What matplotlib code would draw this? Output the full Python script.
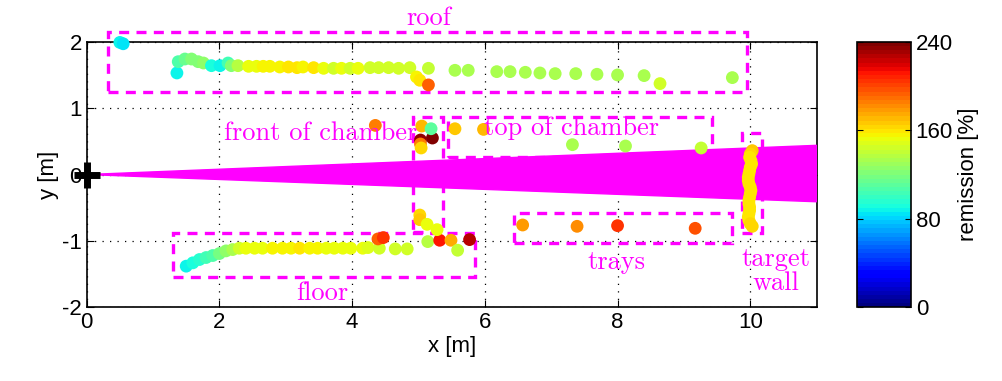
import numpy as np
import matplotlib
matplotlib.use('Agg')
import matplotlib.pyplot as plt
from matplotlib.patches import Polygon, Rectangle

plt.rcParams['font.family'] = ['Liberation Sans', 'DejaVu Sans']
plt.rcParams['axes.unicode_minus'] = False

# scan points per surface: x [m], y [m], remission [%]
roof_x = [0.50, 0.55, 1.36, 1.38, 1.48, 1.58, 1.68, 1.76, 1.88, 2.01, 2.13, 2.18, 2.28,
          2.44, 2.56, 2.66, 2.76, 2.91, 3.04, 3.17, 3.26, 3.42, 3.57, 3.72, 3.84, 3.97,
          4.09, 4.27, 4.40, 4.55, 4.70, 4.87, 5.15, 4.97, 5.02, 5.15, 5.55, 5.75, 6.18,
          6.38, 6.61, 6.83, 7.06, 7.37, 7.69, 8.00, 8.40, 8.64, 9.73]
roof_y = [1.99, 1.97, 1.53, 1.70, 1.74, 1.74, 1.70, 1.68, 1.64, 1.64, 1.68, 1.64, 1.64,
          1.63, 1.63, 1.63, 1.63, 1.62, 1.62, 1.61, 1.62, 1.61, 1.60, 1.60, 1.60, 1.60,
          1.60, 1.61, 1.61, 1.61, 1.60, 1.61, 1.60, 1.47, 1.42, 1.35, 1.57, 1.57, 1.55,
          1.55, 1.54, 1.53, 1.52, 1.52, 1.51, 1.50, 1.49, 1.37, 1.46]
roof_r = [88, 86, 88, 108, 116, 120, 122, 126, 92, 88, 104, 122, 138,
          150, 151, 156, 154, 157, 158, 158, 155, 160, 151, 146, 151, 144,
          151, 144, 144, 144, 144, 144, 140, 157, 160, 194, 134, 134, 133,
          133, 133, 133, 133, 133, 133, 133, 133, 143, 133]

floor_x = [1.50, 1.60, 1.70, 1.80, 1.90, 2.00, 2.10, 2.20, 2.30, 2.40, 2.53, 2.65, 2.80,
           2.95, 3.08, 3.21, 3.36, 3.48, 3.61, 3.73, 3.86, 3.98, 4.16, 4.24, 4.41, 4.65,
           4.83, 4.39, 4.47, 5.14, 5.32, 5.49, 5.59, 5.77]
floor_y = [-1.38, -1.33, -1.28, -1.25, -1.22, -1.19, -1.15, -1.13, -1.11, -1.11, -1.11,
           -1.11, -1.11, -1.11, -1.11, -1.11, -1.11, -1.11, -1.11, -1.11, -1.11, -1.11,
           -1.11, -1.10, -1.11, -1.12, -1.12, -0.97, -0.95, -1.01, -0.99, -0.99, -1.14,
           -0.98]
floor_r = [88, 90, 96, 102, 108, 118, 126, 134, 143, 150, 152, 152, 154,
           157, 154, 158, 155, 154, 152, 152, 152, 152, 151, 149, 145, 146,
           146, 192, 205, 138, 212, 175, 140, 228]

front_x = [4.35, 5.05, 5.21, 5.03, 5.03, 5.04, 5.19, 5.55, 5.98, 5.02, 5.02, 5.13, 5.28]
front_y = [0.74, 0.73, 0.55, 0.52, 0.46, 0.40, 0.69, 0.69, 0.68, -0.61, -0.68, -0.75, -0.83]
front_r = [185, 170, 240, 235, 185, 163, 110, 165, 172, 163, 166, 150, 150]

top_x = [7.32, 8.12, 9.26]
top_y = [0.45, 0.43, 0.40]
top_r = [132, 132, 140]

trays_x = [6.57, 7.39, 8.00, 9.17]
trays_y = [-0.76, -0.78, -0.77, -0.81]
trays_r = [178, 183, 203, 195]

wall_x = [10.03, 10.00, 9.99, 10.01, 10.02, 10.00, 9.99, 9.98, 9.97, 9.97, 9.98, 10.00,
          10.01, 10.00, 9.99, 9.98, 9.98, 9.99, 9.99, 9.98, 9.97, 9.98, 10.00, 10.03]
wall_y = [0.36, 0.31, 0.26, 0.21, 0.16, 0.11, 0.06, 0.01, -0.04, -0.09, -0.14, -0.19,
          -0.24, -0.29, -0.34, -0.39, -0.44, -0.49, -0.54, -0.59, -0.64, -0.69, -0.74, -0.78]
wall_r = [168, 162, 160, 160, 161, 160, 160, 160, 161, 160, 160, 160,
          160, 161, 160, 160, 160, 160, 160, 160, 161, 160, 162, 164]

# region boxes: (x0, y0, x1, y1)
box_roof = (0.32, 1.25, 9.95, 2.15)
box_front = (4.92, -0.87, 5.37, 0.87)
box_top = (5.44, 0.27, 9.42, 0.87)
box_trays = (6.44, -1.03, 9.72, -0.58)
box_floor = (1.30, -1.54, 5.85, -0.88)
box_wall = (9.87, -0.88, 10.18, 0.62)

# region labels
labels = ['roof', 'front of chamber', 'top of chamber', 'trays', 'target\nwall', 'floor']
label_x = [5.15, 3.52, 7.31, 7.99, 10.39, 3.55]
label_y = [2.35, 0.62, 0.70, -1.32, -1.46, -1.78]

# laser beam edges at x = 11
beam_top = 0.44
beam_bottom = -0.41

x = np.array(roof_x + floor_x + front_x + top_x + trays_x + wall_x)
y = np.array(roof_y + floor_y + front_y + top_y + trays_y + wall_y)
r = np.array(roof_r + floor_r + front_r + top_r + trays_r + wall_r)

fig = plt.figure(figsize=(10.02, 3.81), dpi=100)
ax = fig.add_axes([0.0865, 0.1934, 0.7285, 0.697])
cax = fig.add_axes([0.855, 0.1934, 0.054, 0.697])

ax.set_xlim(0, 11)
ax.set_ylim(-2, 2)
ax.set_xticks(range(0, 11, 2))
ax.set_yticks(range(-2, 3))
ax.grid(True, linestyle=(0, (1, 5)), color='k', linewidth=0.9)
ax.tick_params(direction='in', top=True, right=True, length=5, labelsize=16)
for s in ax.spines.values():
    s.set_linewidth(1.2)

for x0, y0, x1, y1 in [box_roof, box_front, box_top, box_trays, box_floor, box_wall]:
    ax.add_patch(Rectangle((x0, y0), x1 - x0, y1 - y0, fill=False, edgecolor='#ff00ff',
                           linewidth=2.4, linestyle=(0, (3, 2.2)), clip_on=False, zorder=2))

ax.add_patch(Polygon([(0, 0), (11, beam_top), (11, beam_bottom)], closed=True,
                     facecolor='#ff00ff', edgecolor='#ff00ff', linewidth=1, zorder=3))

cmap = plt.get_cmap('jet', 64)
sc = ax.scatter(x, y, c=r, cmap=cmap, vmin=0, vmax=240, s=85, edgecolors='none',
                zorder=4, clip_on=False)

ax.plot(0, 0, marker='+', color='k', markersize=19, markeredgewidth=5, zorder=5, clip_on=False)

for t, lx, ly in zip(labels, label_x, label_y):
    ax.text(lx, ly, t, color='#ff00ff', fontsize=19, family='cmr10',
            ha='center', va='center', zorder=6, linespacing=1.0)

ax.set_xlabel('x [m]', fontsize=16, labelpad=2)
ax.set_ylabel('y [m]', fontsize=16, labelpad=2)

cb = fig.colorbar(sc, cax=cax, ticks=[0, 80, 160, 240])
cb.set_label('remission [%]', fontsize=16)
cb.outline.set_linewidth(1.2)
cax.tick_params(direction='in', left=True, right=True, length=4, labelsize=16)

fig.savefig('out.png', dpi=100)
